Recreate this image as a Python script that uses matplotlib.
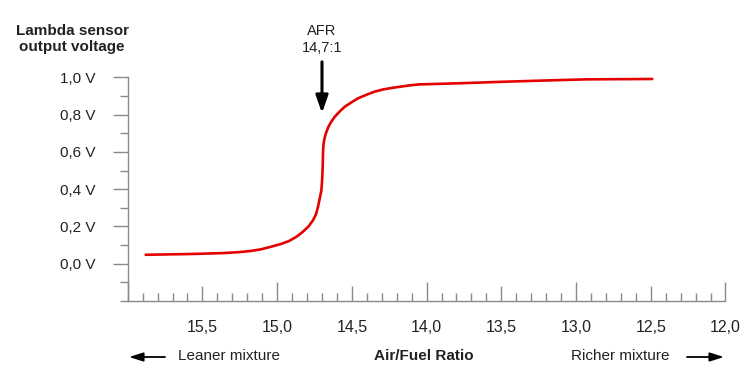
import matplotlib.pyplot as plt
from matplotlib.patches import FancyArrowPatch
from matplotlib.ticker import MultipleLocator, FuncFormatter

# Values
afr = [15.88, 15.58, 15.36, 15.26, 15.18, 15.11, 15.05, 14.97, 14.92, 14.87,
       14.83, 14.79, 14.76, 14.74, 14.727, 14.715, 14.704, 14.699, 14.696,
       14.694, 14.693, 14.691, 14.688, 14.683, 14.676, 14.666, 14.655, 14.635,
       14.615, 14.58, 14.548, 14.50, 14.46, 14.40, 14.348, 14.29, 14.226,
       14.11, 14.05, 13.78, 13.49, 13.20, 12.93, 12.49]
volts = [0.048, 0.052, 0.057, 0.062, 0.068, 0.077, 0.089, 0.107, 0.122, 0.145,
         0.170, 0.200, 0.233, 0.265, 0.304, 0.35, 0.394, 0.45, 0.50,
         0.56, 0.60, 0.627, 0.65, 0.672, 0.694, 0.716, 0.738, 0.765,
         0.788, 0.818, 0.842, 0.867, 0.887, 0.907, 0.923, 0.935, 0.944,
         0.957, 0.962, 0.968, 0.976, 0.983, 0.989, 0.991]

stoich_afr = 14.7
stoich_arrow_tip = 0.808

plt.rcParams['font.family'] = ['Liberation Sans', 'DejaVu Sans']

fig = plt.figure(figsize=(7.5, 3.91), dpi=100)
ax = fig.add_axes([127.7 / 750, 1 - 301 / 391, 597.8 / 750, 223.7 / 391])

ax.plot(afr, volts, color='#e50000', lw=1.9, solid_capstyle='round',
        solid_joinstyle='round')

ax.set_xlim(16.0, 12.0)
ax.set_ylim(-0.2, 1.0)

axis_grey = '#8a8a8a'
text_col = '#222222'
for s in ['top', 'right']:
    ax.spines[s].set_visible(False)
for s in ['left', 'bottom']:
    ax.spines[s].set_color(axis_grey)
    ax.spines[s].set_linewidth(1.0)
ax.spines['left'].set_bounds(-0.2, 1.0)

# y axis: labels 0.0 .. 1.0, minor every 0.1
ax.set_yticks([0.0, 0.2, 0.4, 0.6, 0.8, 1.0])
ax.yaxis.set_minor_locator(MultipleLocator(0.1))
ax.yaxis.set_major_formatter(FuncFormatter(lambda v, p: f"{v:.1f} V".replace('.', ',')))
ax.tick_params(axis='y', which='major', direction='out', length=10.8, width=1.0,
               color=axis_grey, pad=12.5, labelsize=11, labelcolor=text_col)
ax.tick_params(axis='y', which='minor', direction='out', length=5.6, width=1.0,
               color=axis_grey)

# x axis: labels every 0.5, minor every 0.1, ticks pointing up
ax.xaxis.set_major_locator(MultipleLocator(0.5))
ax.xaxis.set_minor_locator(MultipleLocator(0.1))
ax.xaxis.set_major_formatter(FuncFormatter(
    lambda v, p: "" if v >= 15.99 else f"{v:.1f}".replace('.', ',')))
ax.tick_params(axis='x', which='major', direction='in', length=10.8, width=1.0,
               color=axis_grey, pad=14, labelsize=11.5, labelcolor=text_col)
ax.tick_params(axis='x', which='minor', direction='in', length=5.6, width=1.0,
               color=axis_grey)
fig.canvas.draw()
for t in ax.xaxis.get_major_ticks():
    v = t.get_loc()
    if abs(v - round(v)) < 1e-6:
        t.tick1line.set_markersize(13.5)

# annotations
fig.text(72 / 750, 1 - 39 / 391, "Lambda sensor\noutput voltage", ha='center',
         va='center', fontsize=11, fontweight='bold', color=text_col,
         linespacing=1.25)
ax.annotate("AFR\n14,7:1", xy=(stoich_afr, stoich_arrow_tip),
            xytext=(stoich_afr, 1.12), textcoords='data', ha='center', va='bottom',
            fontsize=10.5, color=text_col, linespacing=1.25, annotation_clip=False,
            arrowprops=dict(arrowstyle='-|>,head_width=0.35,head_length=1.0',
                            color='black', lw=2.2, shrinkA=3, shrinkB=0))

fig.text(424 / 750, 1 - 356 / 391, "Air/Fuel Ratio", ha='center', va='center',
         fontsize=11, fontweight='bold', color=text_col)
fig.text(178 / 750, 1 - 356 / 391, "Leaner mixture", ha='left', va='center',
         fontsize=11, color=text_col)
fig.text(571 / 750, 1 - 356 / 391, "Richer mixture", ha='left', va='center',
         fontsize=11, color=text_col)
arrow_style = dict(arrowstyle='-|>,head_width=0.22,head_length=0.7', color='black',
                   lw=1.3, shrinkA=0, shrinkB=0)
fig.add_artist(FancyArrowPatch(
    (165 / 750, 1 - 357 / 391), (129 / 750, 1 - 357 / 391),
    transform=fig.transFigure, mutation_scale=12, **arrow_style))
fig.add_artist(FancyArrowPatch(
    (687 / 750, 1 - 357 / 391), (724 / 750, 1 - 357 / 391),
    transform=fig.transFigure, mutation_scale=12, **arrow_style))

fig.savefig("out.png", dpi=100)
